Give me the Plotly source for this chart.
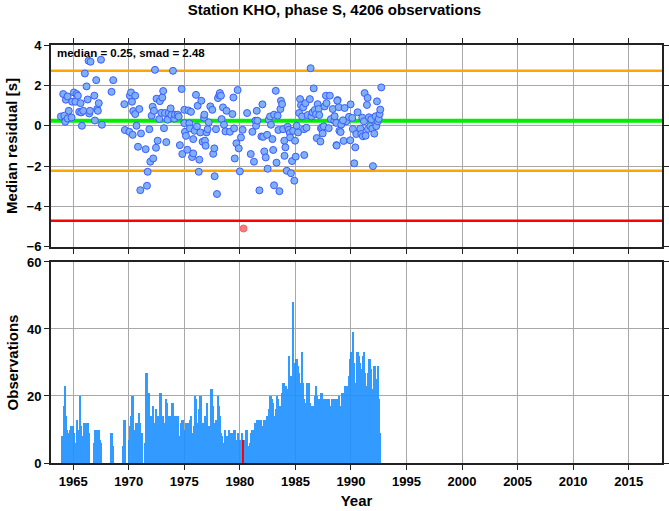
import plotly.graph_objects as go
from plotly.subplots import make_subplots

# ---------------- data ----------------
title_text = "Station KHO, phase S, 4206 observations"
median_val = 0.25
smad_val = 2.48

res_years = [1963.89,1964.1,1964.2,1964.28,1964.34,1964.49,1964.49,1964.6,1964.85,1964.9,
             1965.06,1965.2,1965.3,1965.42,1965.54,1965.66,1965.72,1965.78,1965.9,1966.05,
             1966.2,1966.3,1966.38,1966.44,1966.56,1966.5,1966.9,1966.95,1967.07,1967.16,
             1967.22,1967.3,1967.5,1967.58,1968.45,1968.6,1969.6,1969.65,1970.05,1970.1,
             1970.2,1970.29,1970.35,1970.4,1970.58,1970.58,1970.7,1970.83,1970.95,1971.04,
             1971.1,1971.52,1971.64,1971.7,1971.85,1971.94,1972.06,1972.15,1972.2,1972.27,
             1972.36,1972.45,1972.5,1972.6,1972.75,1972.8,1972.93,1973.02,1973.1,1973.17,
             1973.26,1973.38,1973.5,1973.6,1973.77,1973.83,1973.98,1974.1,1974.16,1974.4,
             1974.5,1974.6,1974.76,1974.82,1975.0,1975.0,1975.06,1975.15,1975.27,1975.36,
             1975.45,1975.5,1975.6,1975.7,1975.8,1975.8,1975.93,1976.05,1976.14,1976.2,
             1976.3,1976.35,1976.44,1976.53,1976.65,1976.77,1976.8,1976.86,1976.92,1977.0,
             1977.1,1977.2,1977.34,1977.52,1977.6,1977.73,1977.7,1977.85,1977.94,1978.03,
             1978.15,1978.2,1978.3,1978.36,1978.48,1978.57,1978.7,1978.8,1979.1,1979.33,
             1979.42,1979.48,1979.54,1979.69,1979.8,1979.9,1980.0,1980.1,1980.25,1980.65,
             1980.98,1981.13,1981.27,1981.4,1981.46,1981.52,1981.58,1981.76,1981.94,1982.03,
             1982.1,1982.2,1982.33,1982.45,1982.5,1982.6,1982.72,1982.8,1982.93,1983.0,
             1983.08,1983.08,1983.23,1983.3,1983.4,1983.47,1983.56,1983.65,1983.7,1983.8,
             1983.9,1984.0,1984.02,1984.1,1984.22,1984.3,1984.4,1984.5,1984.52,1984.6,
             1984.7,1984.8,1984.9,1984.97,1985.03,1985.12,1985.24,1985.33,1985.42,1985.5,
             1985.6,1985.7,1985.78,1985.8,1985.9,1986.0,1986.1,1986.3,1986.37,1986.44,
             1986.55,1986.65,1986.74,1986.86,1986.92,1987.0,1987.1,1987.15,1987.25,1987.3,
             1987.4,1987.46,1987.55,1987.63,1987.75,1987.8,1988.0,1988.1,1988.2,1988.36,
             1988.5,1988.7,1988.8,1988.9,1988.96,1988.77,1988.53,1989.43,1989.97,1988.68,
             1989.13,1989.58,1989.82,1990.12,1989.28,1989.07,1989.34,1988.71,1989.94,1990.39,
             1990.3,1990.18,1990.48,1990.6,1990.84,1990.93,1991.02,1991.08,1991.17,1991.23,
             1991.32,1991.44,1991.5,1991.53,1991.62,1991.74,1991.83,1991.92,1991.98,1992.1,
             1992.22,1992.28,1992.34,1992.43,1992.5,1992.58,1992.64,1992.73]
res_values = [0.46,1.57,0.5,0.2,1.29,1.45,0.36,0.74,0.41,1.19,
              1.65,1.19,1.57,1.49,0.69,1.12,0.66,0.0,0.74,2.59,
              1.95,1.3,3.22,0.61,3.17,0.74,1.49,0.26,2.26,0.83,
              0.74,1.12,3.27,0.05,1.68,2.26,1.07,-0.21,-0.3,1.49,
              1.65,1.19,-0.45,0.73,1.49,0.58,0.0,-1.04,0.83,-3.19,
              -0.38,-1.16,-2.97,-2.28,-0.17,-1.78,0.5,0.94,-1.62,0.74,
              2.77,-1.09,1.34,-0.74,0.33,1.22,0.64,1.4,1.72,-0.12,
              0.63,-0.81,0.3,0.63,0.86,0.53,2.72,0.35,0.55,0.55,
              0.46,-0.96,1.82,-1.4,0.79,0.13,-0.3,-0.5,-1.19,0.76,
              0.12,-0.13,0.69,-1.55,-1.37,-0.66,-0.25,1.53,-0.03,0.99,
              -2.28,-1.68,-0.33,1.24,-0.79,0.4,0.55,-0.74,-0.99,-0.33,
              -0.17,0.17,0.96,0.79,-1.39,-2.5,-1.12,-0.17,-3.38,1.37,
              1.52,1.62,1.49,0.33,0.91,0.05,-0.28,0.74,-0.3,0.58,
              1.4,-0.13,-1.62,-0.87,1.77,-1.12,-2.26,-0.58,-0.2,0.63,
              -1.4,-0.3,-1.78,0.25,0.0,0.74,0.25,-3.2,-0.53,1.06,
              -0.55,-1.27,-1.57,-0.45,-2.13,0.3,0.46,0.05,-0.66,-1.2,
              0.55,-2.95,1.73,-1.83,0.5,-0.21,-3.24,0.83,1.24,1.07,
              -0.17,-0.74,-1.49,-1.07,-2.23,-0.05,-0.2,-0.36,-0.58,-2.35,
              -1.75,-0.25,-2.72,-0.74,-1.53,0.0,-0.33,0.63,1.32,1.02,
              0.46,0.91,-0.17,-1.45,1.12,-0.1,0.53,1.32,2.85,0.46,
              0.66,1.85,0.78,0.58,-0.61,1.07,0.83,0.53,-0.78,-0.13,
              -0.08,-0.38,-0.03,0.96,1.49,1.12,-0.12,1.49,0.33,0.83,
              0.25,-0.96,1.27,0.92,-0.25,1.24,0.47,0.88,1.06,0.14,
              0.06,0.22,0.44,0.39,0.27,-0.31,-0.75,-0.98,-0.72,-1.07,
              -1.86,-0.16,-0.41,0.67,-0.14,-0.41,0.4,-0.52,0.22,1.62,
              -0.49,1.03,1.38,-0.16,0.42,-0.02,0.32,-0.14,-2.0,-0.39,
              0.47,-0.02,1.21,0.22,0.34,0.58,0.8,1.9]
outlier_years = [1980.33]
outlier_values = [-5.09]

obs_start_year = 1964
obs_monthly = [
    8, 7, 17, 23, 14, 10, 9, 8, 6, 10, 11, 11,      # 1964
    9, 6, 6, 0, 13, 6, 10, 20, 11, 8, 0, 5,         # 1965
    12, 12, 12, 12, 9, 9, 0, 0, 0, 0, 6, 10,        # 1966
    10, 8, 10, 10, 7, 7, 6, 0, 0, 0, 0, 0,          # 1967
    0, 0, 0, 0, 0, 9, 0, 5, 0, 0, 0, 0,             # 1968
    0, 0, 0, 0, 0, 0, 5, 13, 0, 0, 0, 0,            # 1969
    7, 11, 14, 16, 20, 8, 10, 10, 12, 10, 7, 15,    # 1970
    12, 9, 9, 0, 0, 0, 6, 27, 21, 21, 9, 5,         # 1971
    14, 12, 17, 12, 12, 16, 12, 14, 12, 12, 21, 14, # 1972
    6, 14, 10, 12, 19, 18, 14, 10, 8, 14, 8, 18,    # 1973
    14, 8, 7, 14, 7, 14, 8, 7, 12, 13, 13, 8,       # 1974
    7, 10, 12, 8, 7, 12, 13, 14, 9, 7, 11, 20,      # 1975
    19, 12, 12, 7, 16, 20, 20, 12, 11, 12, 14, 13,  # 1976
    18, 8, 11, 10, 9, 22, 16, 17, 12, 10, 13, 9,    # 1977
    20, 17, 14, 9, 8, 6, 0, 0, 10, 6, 8, 7,         # 1978
    10, 6, 9, 9, 7, 8, 10, 7, 7, 7, 9, 0,           # 1979
    7, 7, 9, 7, 7, 0, 0, 10, 0, 0, 5, 6,            # 1980
    9, 10, 10, 9, 12, 9, 11, 13, 13, 10, 13, 10,    # 1981
    10, 11, 13, 13, 13, 14, 14, 16, 17, 20, 19, 18, # 1982
    14, 13, 13, 16, 20, 19, 17, 15, 17, 21, 17, 24, # 1983
    11, 23, 19, 21, 22, 32, 19, 26, 22, 48, 30, 26, # 1984
    30, 31, 29, 27, 24, 11, 21, 33, 24, 19, 18, 10, # 1985
    24, 20, 24, 18, 15, 17, 12, 14, 17, 20, 23, 20, # 1986
    19, 13, 19, 18, 21, 12, 17, 19, 13, 19, 18, 19, # 1987
    19, 13, 17, 17, 19, 13, 12, 19, 19, 13, 17, 20, # 1988
    17, 17, 21, 21, 19, 21, 23, 19, 23, 23, 26, 31, # 1989
    33, 27, 39, 30, 24, 21, 26, 33, 32, 30, 28, 20, # 1990
    21, 32, 33, 27, 20, 23, 27, 29, 31, 28, 22, 21, # 1991
    20, 29, 23, 25, 24, 29, 19, 9,                  # 1992
]
outlier_bar_year = [1980.33]
outlier_bar_count = [7]

x_ticks = [1965, 1970, 1975, 1980, 1985, 1990, 1995, 2000, 2005, 2010, 2015]
res_ticks = [-6, -4, -2, 0, 2, 4]
obs_ticks = [0, 20, 40, 60]

# derived
obs_years = [obs_start_year + (i + 0.5) / 12.0 for i in range(len(obs_monthly))]
upper_lim = median_val + smad_val
lower_lim = median_val - smad_val
outlier_lim = median_val - 2 * smad_val

# ---------------- figure ----------------
FONT = "Liberation Sans"
fig = make_subplots(rows=2, cols=1, vertical_spacing=0.036, shared_xaxes=False)

XR = [1963, 2018]

for yv, col, w in [(upper_lim, "#ffa500", 2.5), (lower_lim, "#ffa500", 2.5),
                   (outlier_lim, "#ff0000", 2.5), (median_val, "#00ee00", 4)]:
    fig.add_trace(go.Scatter(x=XR, y=[yv, yv], mode="lines",
                             line=dict(color=col, width=w), hoverinfo="skip",
                             showlegend=False), row=1, col=1)

fig.add_trace(go.Scatter(x=res_years, y=res_values, mode="markers",
                         marker=dict(size=7, color="#80b0f4",
                                     line=dict(color="#3a5cff", width=1)),
                         showlegend=False), row=1, col=1)
fig.add_trace(go.Scatter(x=outlier_years, y=outlier_values, mode="markers",
                         marker=dict(size=7, color="#f08080",
                                     line=dict(color="#ff6060", width=1)),
                         showlegend=False), row=1, col=1)

fig.add_trace(go.Bar(x=obs_years, y=obs_monthly, width=0.17,
                     marker=dict(color="#1e90ff", line=dict(width=0)),
                     opacity=0.9, showlegend=False), row=2, col=1)
fig.add_trace(go.Bar(x=outlier_bar_year, y=outlier_bar_count, width=0.1,
                     marker=dict(color="#ff0000", line=dict(width=0)),
                     showlegend=False), row=2, col=1)

axis_common = dict(showgrid=True, gridcolor="#a8a8a8", gridwidth=1,
                   showline=True, linecolor="#222222", linewidth=2,
                   ticks="outside", ticklen=5, tickcolor="#222222", tickwidth=1,
                   tickfont=dict(family=FONT, size=13, color="black", weight="bold"),
                   zeroline=False, automargin=False)

title_font = dict(family=FONT, size=15, color="black", weight="bold")

fig.update_xaxes(range=XR, tickvals=x_ticks, showticklabels=False,
                 mirror="allticks", row=1, col=1, **axis_common)
fig.update_xaxes(range=XR, tickvals=x_ticks, mirror=True, row=2, col=1,
                 title=dict(text="Year", font=title_font, standoff=8),
                 **axis_common)
fig.update_yaxes(range=[-6, 4], tickvals=res_ticks, mirror="allticks", row=1, col=1,
                 title=dict(text="Median residual [s]", font=title_font, standoff=5),
                 **axis_common)
fig.update_yaxes(range=[0, 60], tickvals=obs_ticks, mirror="allticks", row=2, col=1,
                 title=dict(text="Observations", font=title_font, standoff=5),
                 **axis_common)

fig.update_layout(
    width=669, height=511,
    margin=dict(l=51, r=7, t=45, b=48, autoexpand=False),
    plot_bgcolor="white", paper_bgcolor="white",
    bargap=0, barmode="overlay",
    title=dict(text=title_text, x=0.5, xanchor="center", y=0.981, yanchor="middle",
               font=dict(family=FONT, size=15, color="black", weight="bold")),
    showlegend=False,
)
fig.update_layout(yaxis=dict(domain=[0.517, 1.0]), yaxis2=dict(domain=[0.0, 0.481]))

fig.add_annotation(text=f"median = {median_val:.2f}, smad = {smad_val:.2f}",
                   xref="x domain", yref="y domain", x=0.006, y=0.998,
                   xanchor="left", yanchor="top", showarrow=False,
                   font=dict(family=FONT, size=11.5, color="black", weight="bold"))

fig.write_html("out.html", config={"displayModeBar": False},
               post_script="document.body.style.margin='0';document.body.style.overflow='hidden';")
